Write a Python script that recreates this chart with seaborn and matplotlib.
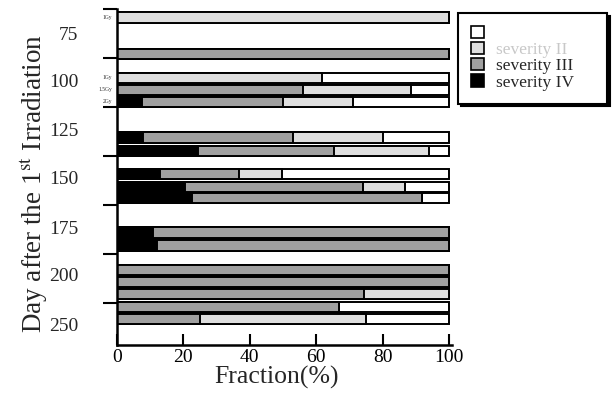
import numpy as np
import matplotlib
matplotlib.use("Agg")
import matplotlib.pyplot as plt
from matplotlib.patches import Patch
import seaborn as sns

# ---------------- data ----------------
day_labels = ["75", "100", "125", "150", "175", "200", "250"]
dose_labels = ["1Gy", "", "1Gy", "1.5Gy", "2Gy", "", "", "", "", "", "", "", "", "", "", "", ""]
# segment widths (%) for each bar, top to bottom
sev4 = [0, 0, 0, 0, 7.5, 7.8, 24.4, 13.0, 20.5, 22.6, 10.8, 12.0, 0, 0, 0, 0, 0]
sev3 = [0, 100, 0, 56.0, 42.5, 45.2, 41.0, 23.7, 53.5, 69.4, 89.2, 88.0, 100, 100, 74.5, 67.0, 25.0]
sev2 = [100, 0, 61.7, 32.6, 21.0, 27.0, 28.6, 13.0, 12.7, 0, 0, 0, 0, 0, 25.5, 0, 50.0]
sev1 = [0, 0, 38.3, 11.4, 29.0, 20.0, 6.0, 50.3, 13.3, 8.0, 0, 0, 0, 0, 0, 33.0, 25.0]
legend_labels = ["", "severity II", "severity III", "severity IV"]

# ---------------- layout (row positions in band units) ----------------
bar_pos = [0.173, 0.918, 1.408, 1.653, 1.898, 2.622, 2.898, 3.367, 3.633, 3.857,
           4.561, 4.827, 5.327, 5.571, 5.816, 6.082, 6.327]
label_pos = [0.49, 1.45, 2.47, 3.45, 4.47, 5.43, 6.45]
band_edges = [0, 1, 2, 3, 4, 5, 6]
bar_h = 0.215

c_I, c_II, c_III, c_IV = "#ffffff", "#dedede", "#a0a0a0", "#000000"

sns.set_theme(style="ticks")
plt.rcParams["font.family"] = ["Liberation Serif", "DejaVu Serif"]
plt.rcParams["mathtext.fontset"] = "stix"

fig = plt.figure(figsize=(6.15, 4.07), dpi=100)
ax = fig.add_axes([117 / 615, 1 - 345 / 407, 335.3 / 615, 336 / 407])

s4 = np.array(sev4); s3 = np.array(sev3); s2 = np.array(sev2); s1 = np.array(sev1)
layers = [(s4 + s3 + s2 + s1, c_I), (s4 + s3 + s2, c_II), (s4 + s3, c_III), (s4, c_IV)]
pos = np.array(bar_pos)
wfac = bar_h / np.min(np.diff(np.sort(pos)))
for cum, col in layers:
    sns.barplot(x=cum, y=pos, orient="y", native_scale=True, color=col,
                saturation=1, edgecolor="black", linewidth=1.4,
                errorbar=None, width=wfac, ax=ax)

ax.set_xlim(0, 101)
ax.set_ylim(6.86, 0)

ax.set_xticks([0, 20, 40, 60, 80, 100])
ax.set_xticklabels(["0", "20", "40", "60", "80", "100"], fontsize=14)
ax.tick_params(axis="x", direction="in", length=8, width=1.5, pad=3, colors="black")

ax.set_yticks(label_pos)
ax.set_yticklabels(day_labels, fontsize=14)
ax.tick_params(axis="y", which="major", length=0, pad=28)
ax.set_yticks(band_edges, minor=True)
ax.tick_params(axis="y", which="minor", direction="out", length=10, width=1.5, color="black")

for side in ["top", "right"]:
    ax.spines[side].set_visible(False)
for side in ["left", "bottom"]:
    ax.spines[side].set_linewidth(1.8)
    ax.spines[side].set_color("black")

for y, t in zip(bar_pos, dose_labels):
    if t:
        ax.text(-1.5, y, t, fontsize=4, ha="right", va="center")

ax.set_xlabel("Fraction(%)", fontsize=18.5, labelpad=4)
ax.set_ylabel("Day after the 1$^{\\rm st}$ Irradiation", fontsize=19.5)
ax.yaxis.set_label_coords(-0.2, 0.482)
ax.xaxis.set_label_coords(0.476, -0.062)
ax.xaxis.label.set_va("top")

handles = [Patch(facecolor=c, edgecolor="black", linewidth=1.2) for c in (c_I, c_II, c_III, c_IV)]
leg = fig.legend(handles, legend_labels, loc="upper left",
                 bbox_to_anchor=(458 / 615, (407 - 100) / 407, 149 / 615, 87 / 407),
                 mode="expand", fontsize=12.5,
                 frameon=True, fancybox=False, handlelength=0.75, handleheight=0.7,
                 labelspacing=0.0, borderpad=0.75, handletextpad=0.7,
                 borderaxespad=0,
                 shadow={"color": "black", "alpha": 1})
leg.get_frame().set_edgecolor("black")
leg.get_frame().set_linewidth(1.5)
leg.get_texts()[1].set_color("#c8c8c8")

fig.savefig("out.png", dpi=100)
